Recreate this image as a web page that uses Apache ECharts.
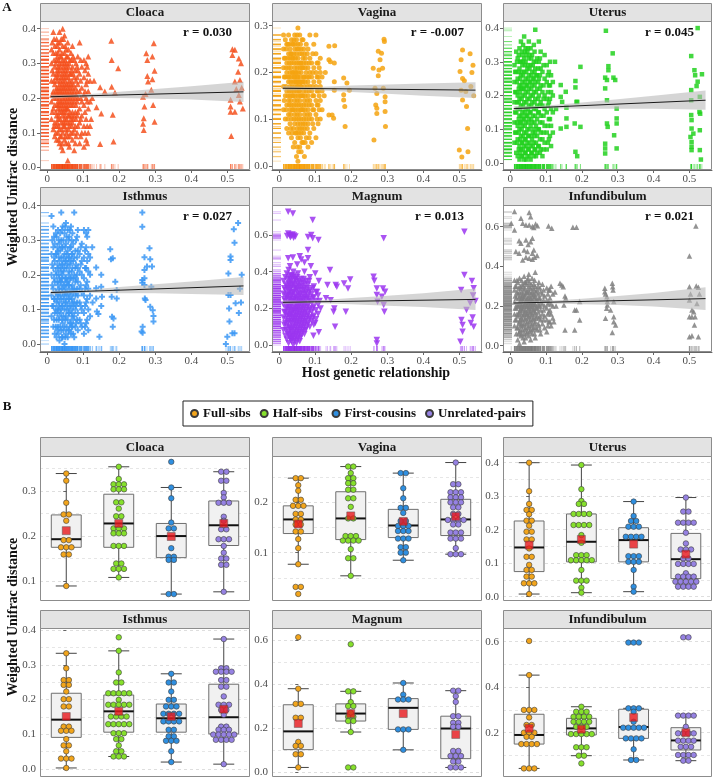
<!DOCTYPE html>
<html><head><meta charset="utf-8">
<script src="https://cdn.jsdelivr.net/npm/echarts/dist/echarts.min.js"></script>
<style>html,body{margin:0;padding:0;background:#fff}#c{width:713px;height:778px}</style>
</head><body><div id="c"></div>
<script>
// ---------------- DATA ----------------
const tissues = ['Cloaca','Vagina','Uterus','Isthmus','Magnum','Infundibulum'];
const rValues = ['0.030','-0.007','0.045','0.027','0.013','0.021'];
const groups = ['Full-sibs','Half-sibs','First-cousins','Unrelated-pairs'];
const xTicksA = [0,0.1,0.2,0.3,0.4,0.5];
const yTicksA = [[0,0.1,0.2,0.3,0.4],[0,0.1,0.2,0.3],[0,0.1,0.2,0.3,0.4],[0,0.1,0.2,0.3,0.4],[0,0.2,0.4,0.6],[0,0.2,0.4,0.6]];
const yTicksB = [[0.1,0.2,0.3],[0.1,0.2],[0,0.1,0.2,0.3,0.4],[0,0.1,0.2,0.3,0.4],[0,0.2,0.4,0.6],[0.2,0.4,0.6]];

// Panel A: dense cluster as [x, [y...]] columns, plus scattered points
const cloacaCluster = [[0.012,[0.14,0.19,0.25,0.30,0.34]],[0.017,[0.11,0.17,0.22,0.27,0.33,0.39]],[0.021,[0.09,0.13,0.18,0.21,0.24,0.29,0.35]],[0.026,[0.08,0.12,0.15,0.2,0.23,0.27,0.31,0.37]],[0.030,[0.1,0.14,0.17,0.19,0.22,0.26,0.29,0.33,0.36]],[0.034,[0.07,0.11,0.16,0.2,0.24,0.28,0.3,0.34,0.39]],[0.039,[0.06,0.09,0.13,0.18,0.21,0.23,0.26,0.32,0.37]],[0.043,[0.05,0.1,0.15,0.17,0.2,0.25,0.28,0.31,0.35,0.40]],[0.048,[0.08,0.12,0.14,0.19,0.22,0.24,0.27,0.3,0.33,0.38]],[0.052,[0.07,0.11,0.16,0.18,0.21,0.26,0.29,0.34]],[0.057,[0.02,0.09,0.13,0.17,0.2,0.23,0.28,0.32,0.36]],[0.061,[0.06,0.12,0.15,0.19,0.22,0.25,0.3]],[0.066,[0.1,0.14,0.18,0.21,0.24,0.27,0.33]],[0.070,[0.08,0.13,0.16,0.2,0.23,0.29,0.35]],[0.075,[0.05,0.11,0.15,0.19,0.22,0.26,0.31]],[0.080,[0.09,0.14,0.18,0.21,0.25,0.3]],[0.085,[0.12,0.16,0.2,0.24,0.28,0.32]],[0.090,[0.07,0.13,0.17,0.22,0.27,0.36]],[0.096,[0.1,0.15,0.19,0.23,0.29]],[0.102,[0.06,0.12,0.18,0.21,0.26,0.31]],[0.108,[0.08,0.14,0.2,0.24,0.3]],[0.114,[0.1,0.17,0.22,0.27,0.32]],[0.119,[0.12,0.19,0.25]]];
const cloacaCluster2 = [[0.014,[0.16,0.21,0.28,0.36]],[0.019,[0.12,0.2,0.25,0.31,0.37]],[0.024,[0.1,0.16,0.22,0.26,0.3,0.33]],[0.028,[0.13,0.18,0.21,0.25,0.28,0.32,0.35]],[0.032,[0.08,0.12,0.15,0.18,0.21,0.23,0.27,0.31]],[0.036,[0.09,0.14,0.17,0.19,0.22,0.25,0.29,0.32,0.36]],[0.041,[0.07,0.11,0.16,0.19,0.22,0.24,0.27,0.3,0.33]],[0.045,[0.12,0.13,0.16,0.18,0.21,0.23,0.26,0.29,0.37]],[0.050,[0.09,0.13,0.15,0.17,0.2,0.23,0.25,0.28,0.31,0.35]],[0.054,[0.1,0.14,0.17,0.19,0.22,0.24,0.27,0.3,0.32]],[0.059,[0.07,0.11,0.15,0.18,0.21,0.24,0.26,0.29,0.34]],[0.063,[0.09,0.13,0.16,0.2,0.23,0.27,0.31]],[0.068,[0.12,0.15,0.19,0.22,0.25,0.28,0.31]],[0.072,[0.1,0.14,0.18,0.21,0.24,0.27,0.32]],[0.078,[0.07,0.12,0.16,0.2,0.23,0.28]],[0.083,[0.1,0.15,0.19,0.22,0.26,0.29]],[0.093,[0.09,0.14,0.2,0.25,0.31]],[0.105,[0.1,0.16,0.22,0.28]],[0.111,[0.07,0.12,0.19,0.25,0.29]]];
const cloacaExtra = [[0.137,0.174],[0.147,0.231],[0.15,0.156],[0.147,0.068],[0.178,0.365],[0.179,0.31],[0.179,0.233],[0.182,0.152],[0.184,0.075],[0.188,0.216],[0.197,0.286],[0.16,0.219],[0.125,0.2],[0.13,0.25],[0.122,0.14],[0.268,0.108],[0.268,0.142],[0.27,0.176],[0.275,0.329],[0.278,0.31],[0.278,0.264],[0.28,0.248],[0.289,0.224],[0.292,0.254],[0.292,0.32],[0.296,0.358],[0.298,0.279],[0.294,0.18],[0.298,0.132],[0.266,0.204],[0.273,0.212],[0.266,0.126],[0.514,0.341],[0.514,0.324],[0.509,0.195],[0.509,0.176],[0.509,0.161],[0.511,0.091],[0.521,0.339],[0.521,0.248],[0.525,0.226],[0.53,0.276],[0.535,0.252],[0.532,0.209],[0.535,0.19],[0.532,0.314],[0.521,0.161],[0.54,0.23],[0.543,0.17],[0.538,0.3]];
const vaginaCluster = [[0.012,[0.12,0.17,0.21,0.25,0.28]],[0.017,[0.1,0.15,0.19,0.23,0.27]],[0.021,[0.08,0.13,0.16,0.2,0.22,0.26]],[0.026,[0.07,0.11,0.14,0.18,0.21,0.24,0.28]],[0.030,[0.09,0.12,0.15,0.17,0.2,0.23,0.25]],[0.034,[0.06,0.1,0.13,0.16,0.19,0.22,0.24,0.27]],[0.039,[0.04,0.08,0.12,0.15,0.18,0.2,0.23,0.26]],[0.043,[0.05,0.09,0.11,0.14,0.17,0.19,0.21,0.25,0.28]],[0.048,[0.02,0.07,0.1,0.13,0.16,0.18,0.2,0.22,0.24,0.27]],[0.052,[0.01,0.06,0.09,0.12,0.15,0.17,0.19,0.23,0.26,0.295]],[0.057,[0.04,0.08,0.11,0.14,0.16,0.18,0.21,0.24,0.28]],[0.061,[0.03,0.07,0.1,0.13,0.17,0.2,0.22,0.25]],[0.066,[0.05,0.09,0.12,0.15,0.18,0.21,0.23,0.27]],[0.070,[0.02,0.08,0.11,0.14,0.17,0.19,0.24]],[0.075,[0.06,0.1,0.13,0.16,0.2,0.22,0.26]],[0.080,[0.04,0.09,0.12,0.15,0.18,0.21,0.25]],[0.085,[0.07,0.11,0.14,0.17,0.2,0.23,0.28]],[0.090,[0.05,0.1,0.13,0.16,0.19,0.22]],[0.096,[0.08,0.12,0.15,0.18,0.21,0.26]],[0.102,[0.06,0.11,0.14,0.17,0.2,0.24,0.28]],[0.108,[0.09,0.13,0.16,0.19,0.22]],[0.114,[0.1,0.14,0.17,0.2,0.23]],[0.119,[0.12,0.16,0.19]]];
const vaginaCluster2 = [[0.014,[0.14,0.19,0.23]],[0.019,[0.12,0.17,0.21,0.25]],[0.024,[0.1,0.15,0.19,0.23,0.26]],[0.028,[0.13,0.16,0.19,0.22,0.26]],[0.032,[0.08,0.11,0.14,0.18,0.21,0.24]],[0.036,[0.07,0.12,0.15,0.17,0.2,0.23,0.26]],[0.041,[0.1,0.13,0.16,0.19,0.22,0.24,0.27]],[0.045,[0.07,0.12,0.15,0.18,0.2,0.23,0.26]],[0.050,[0.04,0.08,0.11,0.14,0.17,0.19,0.21,0.25,0.28]],[0.054,[0.03,0.07,0.1,0.13,0.16,0.18,0.2,0.22,0.25]],[0.059,[0.06,0.09,0.12,0.15,0.17,0.19,0.22,0.26]],[0.063,[0.05,0.08,0.12,0.15,0.18,0.21,0.24,0.27]],[0.068,[0.07,0.1,0.13,0.16,0.19,0.22,0.25]],[0.072,[0.05,0.09,0.12,0.15,0.18,0.21,0.23]],[0.078,[0.08,0.11,0.14,0.17,0.19,0.24]],[0.083,[0.06,0.1,0.13,0.16,0.19,0.22]],[0.093,[0.09,0.12,0.15,0.17,0.2,0.24]],[0.105,[0.1,0.13,0.16,0.19,0.22]],[0.111,[0.12,0.15,0.18,0.21]]];
const vaginaExtra = [[0.138,0.256],[0.138,0.227],[0.142,0.223],[0.138,0.109],[0.147,0.109],[0.151,0.102],[0.154,0.257],[0.153,0.22],[0.153,0.18],[0.153,0.162],[0.179,0.188],[0.179,0.152],[0.179,0.141],[0.182,0.127],[0.183,0.084],[0.188,0.177],[0.195,0.162],[0.125,0.15],[0.128,0.2],[0.261,0.209],[0.263,0.055],[0.266,0.166],[0.268,0.13],[0.271,0.123],[0.271,0.112],[0.275,0.245],[0.277,0.205],[0.275,0.193],[0.28,0.227],[0.284,0.241],[0.287,0.209],[0.291,0.271],[0.292,0.266],[0.289,0.166],[0.294,0.148],[0.294,0.137],[0.294,0.116],[0.295,0.084],[0.271,0.155],[0.5,0.034],[0.502,0.202],[0.505,0.227],[0.505,0.162],[0.509,0.248],[0.509,0.141],[0.507,0.019],[0.514,0.182],[0.518,0.159],[0.52,0.127],[0.523,0.08],[0.524,0.03],[0.509,0.187],[0.53,0.24],[0.535,0.2],[0.54,0.15],[0.538,0.215],[0.532,0.17]];
const uterusCluster = [[0.012,[0.06,0.12,0.18,0.24,0.29]],[0.017,[0.03,0.09,0.15,0.21,0.27,0.33]],[0.021,[0.02,0.07,0.11,0.16,0.2,0.25,0.31]],[0.026,[0.01,0.05,0.1,0.14,0.19,0.23,0.28,0.34]],[0.030,[0.04,0.08,0.12,0.17,0.22,0.26,0.3,0.36]],[0.034,[0.02,0.06,0.11,0.15,0.2,0.24,0.29,0.32]],[0.039,[0.01,0.05,0.09,0.13,0.18,0.22,0.27,0.31,0.375]],[0.043,[0.03,0.07,0.12,0.16,0.21,0.25,0.3,0.34]],[0.048,[0.02,0.06,0.1,0.14,0.19,0.23,0.28,0.33]],[0.052,[0.04,0.08,0.13,0.17,0.22,0.26,0.31,0.36]],[0.057,[0.01,0.05,0.11,0.15,0.2,0.24,0.29,0.34]],[0.061,[0.03,0.07,0.12,0.18,0.23,0.27,0.32]],[0.066,[0.02,0.06,0.1,0.16,0.21,0.25,0.3,0.35]],[0.070,[0.04,0.09,0.14,0.19,0.24,0.28,0.395]],[0.075,[0.03,0.08,0.13,0.17,0.22,0.26,0.31]],[0.080,[0.05,0.1,0.15,0.2,0.25,0.3,0.36]],[0.085,[0.04,0.09,0.14,0.18,0.23,0.28,0.33]],[0.090,[0.02,0.07,0.12,0.17,0.21,0.27]],[0.096,[0.06,0.11,0.16,0.2,0.25,0.32]],[0.102,[0.04,0.09,0.15,0.19,0.24,0.29]],[0.108,[0.07,0.13,0.18,0.23,0.27]],[0.114,[0.05,0.11,0.16,0.21,0.26]],[0.119,[0.09,0.15,0.2,0.24]]];
const uterusCluster2 = [[0.014,[0.09,0.15,0.21,0.27]],[0.019,[0.06,0.12,0.18,0.24,0.3]],[0.024,[0.04,0.09,0.13,0.18,0.22,0.27,0.32]],[0.028,[0.03,0.07,0.12,0.16,0.21,0.25,0.3]],[0.032,[0.02,0.06,0.1,0.14,0.19,0.23,0.27,0.33]],[0.036,[0.04,0.08,0.13,0.17,0.22,0.26,0.3,0.35]],[0.041,[0.03,0.07,0.11,0.15,0.2,0.24,0.29,0.33]],[0.045,[0.01,0.05,0.09,0.14,0.18,0.23,0.27,0.32]],[0.050,[0.04,0.08,0.12,0.16,0.21,0.25,0.29,0.34]],[0.054,[0.02,0.06,0.1,0.15,0.19,0.24,0.28,0.32]],[0.059,[0.03,0.08,0.13,0.17,0.22,0.26,0.31]],[0.063,[0.05,0.09,0.14,0.2,0.25,0.29]],[0.068,[0.04,0.08,0.12,0.18,0.23,0.27,0.33]],[0.072,[0.02,0.06,0.11,0.16,0.21,0.26,0.3]],[0.078,[0.05,0.1,0.15,0.19,0.24,0.28]],[0.083,[0.03,0.07,0.12,0.17,0.22,0.26,0.31]],[0.093,[0.04,0.09,0.14,0.19,0.23,0.29]],[0.105,[0.06,0.11,0.17,0.21,0.26]],[0.111,[0.08,0.13,0.19,0.23,0.3]]];
const uterusExtra = [[0.141,0.231],[0.141,0.196],[0.141,0.102],[0.145,0.181],[0.155,0.211],[0.157,0.164],[0.157,0.132],[0.157,0.107],[0.182,0.243],[0.182,0.224],[0.185,0.181],[0.18,0.117],[0.182,0.033],[0.187,0.02],[0.196,0.285],[0.196,0.107],[0.187,0.181],[0.125,0.3],[0.128,0.16],[0.267,0.392],[0.265,0.253],[0.265,0.221],[0.265,0.057],[0.265,0.043],[0.265,0.028],[0.27,0.246],[0.27,0.117],[0.272,0.107],[0.274,0.287],[0.274,0.275],[0.27,0.186],[0.286,0.325],[0.288,0.253],[0.293,0.246],[0.29,0.082],[0.297,0.161],[0.297,0.132],[0.297,0.117],[0.297,0.043],[0.505,0.317],[0.505,0.216],[0.505,0.186],[0.505,0.142],[0.506,0.127],[0.506,0.102],[0.503,0.077],[0.506,0.062],[0.506,0.048],[0.506,0.038],[0.514,0.275],[0.516,0.26],[0.52,0.228],[0.523,0.4],[0.523,0.241],[0.528,0.151],[0.529,0.097],[0.529,0.038],[0.532,0.01],[0.535,0.263],[0.529,0.196],[0.511,0.087],[0.53,0.146]];
const isthmusCluster = [[0.012,[0.08,0.14,0.2,0.26,0.37]],[0.017,[0.05,0.11,0.16,0.22,0.28,0.34]],[0.021,[0.03,0.09,0.13,0.18,0.24,0.29]],[0.026,[0.02,0.07,0.12,0.15,0.2,0.26,0.31]],[0.030,[0.05,0.1,0.14,0.17,0.22,0.27,0.33]],[0.034,[0.01,0.08,0.12,0.16,0.19,0.24,0.29]],[0.039,[0.04,0.09,0.13,0.18,0.21,0.25,0.3,0.38]],[0.043,[0.02,0.06,0.11,0.15,0.2,0.23,0.28,0.34]],[0.048,[0.0,0.05,0.1,0.14,0.17,0.22,0.26,0.32]],[0.052,[0.03,0.08,0.12,0.16,0.19,0.24,0.29,0.35]],[0.057,[0.02,0.07,0.11,0.15,0.18,0.23,0.27,0.33]],[0.061,[0.04,0.09,0.13,0.17,0.21,0.25,0.31]],[0.066,[0.03,0.06,0.1,0.14,0.19,0.24,0.28,0.34]],[0.070,[0.05,0.09,0.13,0.17,0.22,0.26,0.32]],[0.075,[0.02,0.08,0.12,0.16,0.2,0.25,0.38]],[0.080,[0.06,0.11,0.15,0.19,0.23,0.3]],[0.085,[0.04,0.09,0.14,0.18,0.22,0.27,0.33]],[0.090,[0.07,0.12,0.16,0.21,0.26]],[0.096,[0.05,0.1,0.15,0.2,0.24,0.29]],[0.102,[0.03,0.09,0.14,0.19,0.25,0.33]],[0.108,[0.06,0.12,0.17,0.22,0.28,0.32]],[0.114,[0.04,0.1,0.16,0.21,0.26,0.33]],[0.119,[0.08,0.14,0.2,0.25]]];
const isthmusCluster2 = [[0.014,[0.11,0.17,0.23,0.3]],[0.019,[0.07,0.13,0.19,0.25,0.31]],[0.024,[0.05,0.1,0.15,0.21,0.26,0.32]],[0.028,[0.04,0.09,0.13,0.18,0.23,0.28]],[0.032,[0.03,0.07,0.11,0.15,0.2,0.25,0.3]],[0.036,[0.05,0.1,0.14,0.18,0.22,0.27,0.32]],[0.041,[0.02,0.07,0.11,0.16,0.19,0.23,0.28,0.33]],[0.045,[0.04,0.08,0.13,0.17,0.21,0.25,0.3]],[0.050,[0.02,0.07,0.12,0.15,0.19,0.24,0.28,0.34]],[0.054,[0.05,0.1,0.14,0.18,0.22,0.26,0.31]],[0.059,[0.04,0.09,0.13,0.17,0.2,0.25,0.3]],[0.063,[0.06,0.11,0.15,0.19,0.23,0.28,0.33]],[0.068,[0.05,0.08,0.12,0.16,0.21,0.26,0.3]],[0.072,[0.03,0.07,0.11,0.15,0.19,0.24,0.29]],[0.078,[0.05,0.1,0.14,0.18,0.22,0.27]],[0.083,[0.07,0.12,0.16,0.2,0.25,0.31]],[0.093,[0.06,0.11,0.17,0.23,0.28]],[0.105,[0.05,0.11,0.16,0.22,0.27]],[0.111,[0.07,0.13,0.18,0.24,0.31]]];
const isthmusExtra = [[0.136,0.221],[0.136,0.161],[0.136,0.132],[0.138,0.094],[0.142,0.087],[0.145,0.021],[0.15,0.2],[0.15,0.166],[0.152,0.137],[0.15,0.11],[0.175,0.274],[0.177,0.245],[0.182,0.248],[0.179,0.137],[0.18,0.079],[0.182,0.05],[0.189,0.18],[0.193,0.156],[0.193,0.132],[0.184,0.074],[0.125,0.28],[0.126,0.12],[0.264,0.38],[0.264,0.339],[0.264,0.185],[0.264,0.177],[0.262,0.036],[0.265,0.05],[0.265,0.033],[0.27,0.251],[0.27,0.214],[0.27,0.19],[0.27,0.171],[0.271,0.132],[0.273,0.127],[0.277,0.224],[0.284,0.277],[0.286,0.245],[0.286,0.108],[0.291,0.224],[0.289,0.166],[0.293,0.098],[0.295,0.081],[0.295,0.065],[0.496,0.0],[0.5,0.021],[0.503,0.204],[0.503,0.142],[0.505,0.103],[0.506,0.065],[0.509,0.253],[0.509,0.243],[0.509,0.142],[0.514,0.031],[0.518,0.332],[0.52,0.293],[0.52,0.031],[0.523,0.118],[0.53,0.35],[0.535,0.16],[0.54,0.2],[0.538,0.12],[0.532,0.09]];
const magnumCluster = [[0.012,[0.08,0.15,0.22,0.28,0.35]],[0.017,[0.05,0.12,0.18,0.24,0.3,0.37]],[0.021,[0.03,0.1,0.16,0.21,0.26,0.32,0.39]],[0.026,[0.01,0.07,0.13,0.19,0.23,0.28,0.34,0.41]],[0.030,[0.04,0.09,0.15,0.2,0.25,0.3,0.36]],[0.034,[0.02,0.06,0.12,0.17,0.22,0.27,0.32,0.38]],[0.039,[0.0,0.05,0.1,0.14,0.19,0.24,0.29,0.34,0.4]],[0.043,[0.03,0.08,0.13,0.18,0.21,0.26,0.31,0.36]],[0.048,[0.01,0.06,0.11,0.16,0.2,0.25,0.3,0.35]],[0.052,[0.04,0.09,0.14,0.19,0.23,0.28,0.33,0.39]],[0.057,[0.02,0.07,0.12,0.17,0.22,0.27,0.32]],[0.061,[0.05,0.1,0.15,0.2,0.24,0.3,0.36]],[0.066,[0.08,0.13,0.18,0.23,0.28,0.34]],[0.070,[0.06,0.11,0.16,0.21,0.26,0.31,0.4]],[0.075,[0.09,0.14,0.19,0.25,0.29,0.35]],[0.080,[0.12,0.17,0.22,0.27,0.33]],[0.085,[0.1,0.15,0.2,0.24,0.3,0.37]],[0.090,[0.13,0.18,0.23,0.28]],[0.096,[0.11,0.16,0.21,0.26,0.32]],[0.102,[0.14,0.19,0.24,0.29]],[0.108,[0.17,0.22,0.27]]];
const magnumCluster2 = [[0.014,[0.11,0.18,0.25,0.31]],[0.019,[0.08,0.14,0.2,0.27,0.33]],[0.024,[0.06,0.12,0.17,0.22,0.27,0.31,0.36]],[0.028,[0.05,0.1,0.16,0.21,0.25,0.29,0.33,0.38]],[0.032,[0.03,0.08,0.13,0.18,0.23,0.27,0.31,0.35]],[0.036,[0.04,0.09,0.15,0.19,0.24,0.28,0.33,0.37]],[0.041,[0.02,0.07,0.12,0.16,0.2,0.25,0.29,0.33,0.38]],[0.045,[0.05,0.1,0.15,0.19,0.23,0.27,0.32,0.36]],[0.050,[0.03,0.08,0.13,0.18,0.22,0.26,0.31,0.37]],[0.054,[0.06,0.11,0.16,0.21,0.25,0.3,0.35]],[0.059,[0.04,0.09,0.14,0.19,0.24,0.28,0.34]],[0.063,[0.07,0.12,0.17,0.22,0.26,0.32]],[0.068,[0.1,0.15,0.2,0.25,0.3,0.36]],[0.072,[0.08,0.13,0.18,0.23,0.28,0.33]],[0.078,[0.11,0.16,0.21,0.26,0.31]],[0.083,[0.14,0.19,0.25,0.29,0.35]],[0.093,[0.15,0.2,0.26,0.31]]];
const magnumExtra = [[0.025,0.727],[0.038,0.718],[0.093,0.682],[0.025,0.609],[0.029,0.6],[0.033,0.595],[0.037,0.603],[0.041,0.598],[0.045,0.592],[0.031,0.588],[0.04,0.585],[0.022,0.595],[0.089,0.6],[0.093,0.582],[0.109,0.573],[0.08,0.59],[0.08,0.518],[0.025,0.473],[0.038,0.478],[0.057,0.485],[0.061,0.467],[0.08,0.473],[0.07,0.45],[0.05,0.44],[0.088,0.43],[0.03,0.43],[0.1,0.39],[0.11,0.35],[0.105,0.29],[0.112,0.24],[0.115,0.2],[0.1,0.12],[0.11,0.07],[0.095,0.05],[0.141,0.409],[0.134,0.327],[0.157,0.327],[0.16,0.318],[0.153,0.2],[0.151,0.182],[0.155,0.1],[0.18,0.336],[0.185,0.182],[0.197,0.358],[0.191,0.309],[0.143,0.245],[0.13,0.255],[0.262,0.373],[0.264,0.351],[0.271,0.309],[0.271,0.273],[0.273,0.236],[0.271,0.027],[0.271,0.009],[0.285,0.264],[0.288,0.309],[0.29,0.218],[0.292,0.182],[0.29,0.582],[0.294,0.291],[0.514,0.618],[0.514,0.382],[0.505,0.3],[0.506,0.136],[0.509,0.109],[0.509,0.073],[0.503,0.018],[0.52,0.191],[0.535,0.35],[0.54,0.31],[0.538,0.27],[0.53,0.23],[0.545,0.24],[0.537,0.15],[0.532,0.12],[0.54,0.1]];
const infundCluster = [[0.012,[0.1,0.16,0.22,0.28,0.33]],[0.017,[0.06,0.13,0.19,0.24,0.3]],[0.021,[0.03,0.09,0.15,0.2,0.26,0.32]],[0.026,[0.01,0.07,0.12,0.17,0.22,0.27,0.34]],[0.030,[0.05,0.1,0.14,0.19,0.23,0.29]],[0.034,[0.08,0.13,0.18,0.21,0.25,0.31]],[0.039,[0.02,0.06,0.11,0.16,0.2,0.24,0.28,0.35]],[0.043,[0.04,0.09,0.14,0.18,0.22,0.26,0.32]],[0.048,[0.07,0.12,0.16,0.2,0.23,0.27,0.33]],[0.052,[0.05,0.1,0.15,0.19,0.22,0.25,0.3,0.36]],[0.057,[0.03,0.08,0.13,0.17,0.21,0.24,0.29]],[0.061,[0.06,0.11,0.16,0.2,0.23,0.27,0.34]],[0.066,[0.09,0.14,0.18,0.22,0.26,0.31]],[0.070,[0.04,0.12,0.17,0.21,0.25,0.3,0.37]],[0.075,[0.08,0.15,0.19,0.23,0.28]],[0.080,[0.1,0.14,0.2,0.24,0.32]],[0.085,[0.06,0.13,0.18,0.22,0.27]],[0.090,[0.11,0.16,0.21,0.26,0.31]],[0.096,[0.09,0.15,0.2,0.25]],[0.102,[0.07,0.13,0.19,0.23,0.29]],[0.108,[0.12,0.17,0.22,0.28]],[0.114,[0.1,0.16,0.21,0.3]],[0.119,[0.14,0.2,0.26]]];
const infundCluster2 = [[0.014,[0.13,0.19,0.25,0.3]],[0.019,[0.09,0.16,0.21,0.27,0.33]],[0.024,[0.06,0.11,0.16,0.2,0.24,0.29]],[0.028,[0.08,0.13,0.18,0.21,0.25,0.3]],[0.032,[0.06,0.11,0.16,0.2,0.24,0.27,0.33]],[0.036,[0.04,0.1,0.15,0.19,0.23,0.26,0.3]],[0.041,[0.08,0.13,0.17,0.21,0.25,0.29,0.32]],[0.045,[0.06,0.11,0.16,0.2,0.23,0.27,0.31]],[0.050,[0.09,0.14,0.18,0.21,0.24,0.28,0.34]],[0.054,[0.07,0.12,0.17,0.2,0.23,0.27,0.32]],[0.059,[0.1,0.15,0.19,0.22,0.26,0.31]],[0.063,[0.08,0.13,0.18,0.21,0.25,0.29]],[0.068,[0.06,0.11,0.16,0.2,0.24,0.28,0.33]],[0.072,[0.09,0.14,0.19,0.23,0.27]],[0.078,[0.11,0.17,0.21,0.26,0.3]],[0.083,[0.08,0.15,0.2,0.24,0.29]],[0.093,[0.13,0.18,0.23,0.28]],[0.105,[0.1,0.16,0.21,0.26]],[0.111,[0.12,0.18,0.24,0.28]]];
const infundExtra = [[0.012,0.676],[0.053,0.671],[0.057,0.65],[0.03,0.642],[0.003,0.617],[0.035,0.617],[0.044,0.608],[0.053,0.608],[0.062,0.6],[0.071,0.613],[0.076,0.605],[0.066,0.595],[0.012,0.583],[0.107,0.603],[0.116,0.592],[0.175,0.597],[0.185,0.597],[0.025,0.529],[0.044,0.533],[0.057,0.524],[0.062,0.541],[0.03,0.516],[0.05,0.51],[0.016,0.474],[0.025,0.466],[0.039,0.482],[0.048,0.474],[0.062,0.466],[0.066,0.482],[0.044,0.445],[0.053,0.44],[0.062,0.435],[0.068,0.445],[0.035,0.432],[0.075,0.455],[0.139,0.314],[0.144,0.306],[0.148,0.297],[0.153,0.25],[0.155,0.239],[0.15,0.205],[0.153,0.079],[0.18,0.079],[0.18,0.18],[0.185,0.18],[0.194,0.129],[0.194,0.222],[0.125,0.27],[0.128,0.2],[0.122,0.12],[0.264,0.289],[0.264,0.272],[0.266,0.26],[0.27,0.247],[0.271,0.222],[0.266,0.138],[0.269,0.188],[0.271,0.205],[0.285,0.314],[0.286,0.297],[0.287,0.281],[0.289,0.146],[0.289,0.121],[0.285,0.066],[0.294,0.104],[0.28,0.18],[0.289,0.222],[0.5,0.452],[0.518,0.603],[0.5,0.297],[0.503,0.26],[0.5,0.23],[0.507,0.18],[0.5,0.146],[0.507,0.146],[0.516,0.146],[0.512,0.171],[0.519,0.301],[0.525,0.294],[0.514,0.104],[0.5,0.045],[0.507,0.05],[0.525,0.045],[0.528,0.26],[0.521,0.213]];

// regression lines and confidence bands
const bandX = [0.01,0.06,0.12,0.2,0.3,0.4,0.545];
const cloacaLine = [[0.01,0.204],[0.545,0.218]];
const cloacaLo = [0.198,0.202,0.202,0.200,0.198,0.196,0.189];
const cloacaHi = [0.210,0.210,0.212,0.218,0.226,0.234,0.247];
const vaginaLine = [[0.01,0.166],[0.545,0.162]];
const vaginaLo = [0.161,0.162,0.161,0.158,0.154,0.150,0.145];
const vaginaHi = [0.171,0.169,0.169,0.172,0.174,0.176,0.179];
const uterusLine = [[0.01,0.161],[0.545,0.186]];
const uterusLo = [0.155,0.160,0.162,0.161,0.161,0.161,0.158];
const uterusHi = [0.168,0.168,0.172,0.179,0.189,0.199,0.215];
const isthmusLine = [[0.01,0.149],[0.545,0.168]];
const isthmusLo = [0.143,0.147,0.148,0.147,0.147,0.145,0.142];
const isthmusHi = [0.155,0.155,0.158,0.165,0.173,0.181,0.194];
const magnumLine = [[0.01,0.233],[0.545,0.249]];
const magnumLo = [0.222,0.228,0.228,0.222,0.215,0.208,0.191];
const magnumHi = [0.244,0.242,0.246,0.256,0.269,0.282,0.308];
const infundLine = [[0.01,0.215],[0.545,0.237]];
const infundLo = [0.206,0.212,0.213,0.209,0.205,0.197,0.180];
const infundHi = [0.224,0.224,0.227,0.237,0.250,0.266,0.295];

// Panel B: dot values per group, box stats [min,Q1,median,Q3,max], means
const cloacaB_FS = [0.339,0.323,0.274,0.248,0.248,0.234,0.191,0.191,0.175,0.175,0.175,0.159,0.159,0.089];
const cloacaB_HS = [0.354,0.327,0.315,0.315,0.315,0.304,0.304,0.304,0.275,0.275,0.261,0.244,0.244,0.217,0.217,0.217,0.206,0.206,0.206,0.178,0.178,0.178,0.139,0.139,0.127,0.127,0.127,0.108];
const cloacaB_FC = [0.365,0.308,0.284,0.230,0.217,0.217,0.173,0.154,0.154,0.147,0.147,0.071,0.071];
const cloacaB_UR = [0.343,0.343,0.323,0.323,0.296,0.286,0.274,0.274,0.274,0.243,0.234,0.215,0.215,0.193,0.193,0.193,0.178,0.163,0.150,0.150,0.136,0.136,0.076];
const cloacaB_stats = [[0.089,0.175,0.193,0.247,0.339],[0.108,0.175,0.228,0.293,0.354],[0.071,0.152,0.2,0.228,0.308],[0.076,0.179,0.224,0.278,0.343]];
const cloacaB_means = [0.212,0.228,0.199,0.228];
const vaginaB_FS = [0.248,0.248,0.234,0.223,0.205,0.205,0.193,0.193,0.193,0.177,0.177,0.166,0.166,0.156,0.156,0.142,0.142,0.127,0.109,0.077,0.032,0.032,0.018];
const vaginaB_HS = [0.271,0.271,0.258,0.248,0.248,0.238,0.238,0.225,0.225,0.208,0.208,0.191,0.168,0.168,0.133,0.133,0.133,0.124,0.124,0.124,0.124,0.107,0.089,0.089,0.054];
const vaginaB_FC = [0.258,0.258,0.228,0.208,0.189,0.189,0.179,0.163,0.163,0.153,0.153,0.153,0.143,0.143,0.143,0.128,0.128,0.128,0.111,0.111,0.1,0.1,0.085];
const vaginaB_UR = [0.279,0.236,0.236,0.22,0.22,0.22,0.21,0.21,0.21,0.2,0.2,0.2,0.19,0.19,0.177,0.177,0.165,0.165,0.165,0.165,0.156,0.156,0.14,0.14,0.14,0.128,0.128,0.128,0.109,0.097,0.097,0.097];
const vaginaB_stats = [[0.077,0.138,0.166,0.193,0.248],[0.054,0.126,0.168,0.221,0.271],[0.085,0.13,0.154,0.186,0.258],[0.097,0.134,0.166,0.206,0.279]];
const vaginaB_means = [0.157,0.173,0.162,0.172];
const uterusB_FS = [0.4,0.315,0.277,0.259,0.259,0.246,0.227,0.227,0.212,0.194,0.194,0.171,0.171,0.144,0.119,0.119,0.095,0.08,0.08,0.06,0.06,0.04,0.04,0.04,0.008];
const uterusB_HS = [0.393,0.321,0.286,0.277,0.277,0.247,0.247,0.247,0.247,0.214,0.214,0.214,0.214,0.184,0.161,0.124,0.124,0.124,0.109,0.109,0.109,0.109,0.109,0.08,0.048,0.048,0.048,0.027,0.012];
const uterusB_FC = [0.284,0.241,0.226,0.226,0.209,0.209,0.209,0.179,0.179,0.179,0.179,0.121,0.121,0.121,0.104,0.104,0.104,0.08,0.03,0.015];
const uterusB_UR = [0.296,0.254,0.254,0.221,0.221,0.221,0.221,0.191,0.159,0.141,0.141,0.141,0.114,0.114,0.098,0.098,0.098,0.098,0.07,0.06,0.06,0.06,0.06,0.045,0.045,0.045,0.045,0.045,0.03,0.03,0.03,0.03];
const uterusB_stats = [[0.008,0.075,0.147,0.226,0.4],[0.012,0.104,0.164,0.247,0.393],[0.015,0.104,0.169,0.206,0.284],[0.03,0.054,0.112,0.189,0.296]];
const uterusB_means = [0.154,0.171,0.157,0.127];
const isthmusB_FS = [0.333,0.29,0.256,0.256,0.242,0.242,0.223,0.201,0.201,0.18,0.18,0.122,0.122,0.11,0.11,0.11,0.086,0.068,0.068,0.051,0.03,0.03,0.03,0.003];
const isthmusB_HS = [0.379,0.34,0.278,0.249,0.249,0.218,0.218,0.218,0.218,0.218,0.199,0.185,0.185,0.185,0.185,0.185,0.151,0.151,0.151,0.151,0.129,0.129,0.129,0.129,0.129,0.103,0.103,0.103,0.086,0.086,0.068,0.051,0.051,0.036,0.036,0.036];
const isthmusB_FC = [0.274,0.249,0.249,0.223,0.199,0.199,0.18,0.18,0.18,0.159,0.159,0.159,0.159,0.137,0.137,0.137,0.137,0.113,0.113,0.094,0.094,0.081,0.081,0.081,0.051,0.02];
const isthmusB_UR = [0.374,0.29,0.29,0.28,0.28,0.28,0.28,0.256,0.256,0.237,0.237,0.209,0.185,0.185,0.185,0.17,0.17,0.156,0.122,0.122,0.113,0.113,0.113,0.099,0.099,0.099,0.099,0.099,0.084,0.084,0.084,0.084,0.014];
const isthmusB_stats = [[0.003,0.091,0.142,0.218,0.333],[0.036,0.106,0.166,0.213,0.34],[0.02,0.106,0.146,0.187,0.274],[0.014,0.101,0.149,0.244,0.374]];
const isthmusB_means = [0.151,0.166,0.151,0.172];
const magnumB_FS = [0.615,0.381,0.312,0.312,0.249,0.249,0.139,0.121,0.121,0.083,0.083,0.023];
const magnumB_HS = [0.583,0.369,0.369,0.32,0.302,0.302,0.271,0.253,0.253,0.234,0.234,0.184,0.023,0.023];
const magnumB_FC = [0.407,0.354,0.332,0.332,0.332,0.196,0.196,0.196,0.103];
const magnumB_UR = [0.372,0.372,0.347,0.321,0.256,0.256,0.226,0.226,0.208,0.208,0.098,0.098,0.075,0.075,0.075,0.05,0.05,0.023,0.023,0.023];
const magnumB_stats = [[0.023,0.104,0.187,0.308,0.381],[0.184,0.234,0.268,0.312,0.369],[0.103,0.196,0.294,0.336,0.407],[0.023,0.063,0.2,0.256,0.372]];
const magnumB_means = [0.223,0.268,0.268,0.173];
const infundB_FS = [0.603,0.453,0.3,0.3,0.3,0.267,0.234,0.234,0.2,0.2,0.2,0.182,0.182,0.15,0.15,0.15,0.15,0.043,0.043,0.043];
const infundB_HS = [0.314,0.292,0.292,0.292,0.27,0.27,0.27,0.27,0.248,0.248,0.248,0.248,0.226,0.226,0.226,0.194,0.194,0.194,0.194,0.194,0.136,0.136,0.136,0.099,0.099,0.065];
const infundB_FC = [0.596,0.596,0.596,0.307,0.307,0.307,0.292,0.248,0.222,0.222,0.222,0.222,0.222,0.175,0.175,0.175,0.175,0.127,0.08,0.08];
const infundB_UR = [0.619,0.619,0.275,0.275,0.275,0.275,0.226,0.197,0.197,0.197,0.197,0.165,0.165,0.165,0.165,0.138,0.138,0.138,0.102,0.102,0.102,0.102,0.077,0.077];
const infundB_stats = [[0.043,0.15,0.19,0.281,0.453],[0.099,0.19,0.219,0.263,0.314],[0.08,0.175,0.225,0.303,0.307],[0.077,0.124,0.166,0.222,0.275]];
const infundB_means = [0.219,0.215,0.267,0.2];

// ---------------- LAYOUT / STYLE ----------------
const FONT = '"Liberation Serif", "Times New Roman", serif';
const COLS = [[40,210],[272,210],[503,209]];
const A_ROWS = [{strip:3, top:21, h:149},{strip:187, top:205, h:147}];
const B_ROWS = [{strip:437, top:456, h:145},{strip:610, top:628, h:149}];
const X_RANGE_A = [-0.02, 0.563];
const Y_RANGE_A = [[-0.007,0.422,5],[-0.009,0.31,3],[-0.021,0.421,4],[-0.023,0.402,4],[-0.038,0.764,4],[-0.032,0.709,4]];
const Y_RANGE_B = [[0.0556,0.378,3],[0.004,0.292,3],[-0.0128,0.42,4],[-0.023,0.4058,4],[-0.0167,0.657,3],[0.0053,0.66,3]];
const PLUS = 'path://M2,0 L4,0 L4,2 L6,2 L6,4 L4,4 L4,6 L2,6 L2,4 L0,4 L0,2 L2,2 Z';
const A_STYLE = [
  {color:'#f4511e', symbol:'triangle', rot:0, size:6},
  {color:'#f5a30f', symbol:'circle', rot:0, size:5},
  {color:'#22d11f', symbol:'rect', rot:0, size:4.5},
  {color:'#3a97f5', symbol:PLUS, rot:0, size:6},
  {color:'#9b35f0', symbol:'triangle', rot:180, size:6.5},
  {color:'#808080', symbol:'triangle', rot:0, size:5.5}
];
const B_COLORS = ['#f2a51c','#86e02c','#2f8fe0','#9682e3'];

const clusters = [cloacaCluster.concat(cloacaCluster2),vaginaCluster.concat(vaginaCluster2),uterusCluster.concat(uterusCluster2),isthmusCluster.concat(isthmusCluster2),magnumCluster.concat(magnumCluster2),infundCluster.concat(infundCluster2)];
const extras = [cloacaExtra,vaginaExtra,uterusExtra,isthmusExtra,magnumExtra,infundExtra];
const lines = [cloacaLine,vaginaLine,uterusLine,isthmusLine,magnumLine,infundLine];
const los = [cloacaLo,vaginaLo,uterusLo,isthmusLo,magnumLo,infundLo];
const his = [cloacaHi,vaginaHi,uterusHi,isthmusHi,magnumHi,infundHi];
const bDots = [[cloacaB_FS,cloacaB_HS,cloacaB_FC,cloacaB_UR],[vaginaB_FS,vaginaB_HS,vaginaB_FC,vaginaB_UR],[uterusB_FS,uterusB_HS,uterusB_FC,uterusB_UR],[isthmusB_FS,isthmusB_HS,isthmusB_FC,isthmusB_UR],[magnumB_FS,magnumB_HS,magnumB_FC,magnumB_UR],[infundB_FS,infundB_HS,infundB_FC,infundB_UR]];
const bStats = [cloacaB_stats,vaginaB_stats,uterusB_stats,isthmusB_stats,magnumB_stats,infundB_stats];
const bMeans = [cloacaB_means,vaginaB_means,uterusB_means,isthmusB_means,magnumB_means,infundB_means];

const grids=[], xAxes=[], yAxes=[], series=[], graphics=[];
const tickColor = '#4d4d4d';
function fmt1(v){ return Number(v).toFixed(1); }

function strip(left, top, w, h, name){
  graphics.push({type:'rect', shape:{x:left+0.5, y:top+0.5, width:w-1, height:h}, style:{fill:'#e3e3e3', stroke:'#8c8c8c', lineWidth:1}, z:50});
  graphics.push({type:'text', x:left+w/2, y:top+h/2+1, style:{text:name, font:'bold 13px '+FONT, fill:'#1a1a1a', align:'center', verticalAlign:'middle', textAlign:'center', textVerticalAlign:'middle'}, z:51});
}
function border(left, top, w, h){
  graphics.push({type:'rect', shape:{x:left+0.5, y:top+0.5, width:w-1, height:h-1}, style:{fill:'none', stroke:'#8c8c8c', lineWidth:1}, z:60, silent:true});
}

// ---- Panel A ----
for (let i=0;i<6;i++){
  const col = COLS[i%3], row = A_ROWS[Math.floor(i/3)];
  const gi = grids.length;
  grids.push({left:col[0], top:row.top, width:col[1], height:row.h, show:false});
  const yr = Y_RANGE_A[i];
  xAxes.push({gridIndex:gi, type:'value', min:X_RANGE_A[0], max:X_RANGE_A[1], splitNumber:5,
    axisLine:{show:true, onZero:false, lineStyle:{color:'#666', width:1}},
    axisTick:{show:true, length:3, customValues:xTicksA, lineStyle:{color:'#666'}},
    axisLabel:{customValues:xTicksA, color:tickColor, fontFamily:FONT, fontSize:11, margin:4, formatter:v=> (Math.abs(v)<1e-9?'0':fmt1(v))},
    splitLine:{show:false}});
  yAxes.push({gridIndex:gi, type:'value', min:yr[0], max:yr[1], splitNumber:yr[2],
    axisLine:{show:true, onZero:false, lineStyle:{color:'#666', width:1}},
    axisTick:{show:true, length:3, customValues:yTicksA[i], lineStyle:{color:'#666'}},
    axisLabel:{customValues:yTicksA[i], color:tickColor, fontFamily:FONT, fontSize:11, margin:4, formatter:fmt1},
    splitLine:{show:false}});
  const st = A_STYLE[i];
  const pts = [];
  clusters[i].forEach(c => c[1].forEach(y => pts.push([c[0], y])));
  extras[i].forEach(p => pts.push(p));
  series.push({type:'scatter', xAxisIndex:gi, yAxisIndex:gi, silent:true, clip:false, z:1,
    data: pts.map(p => [X_RANGE_A[0], p[1]]), symbol:'rect', symbolSize:[9,1], symbolOffset:[4.5,0],
    itemStyle:{color:st.color, opacity:0.3}});
  series.push({type:'scatter', xAxisIndex:gi, yAxisIndex:gi, silent:true, clip:false, z:1,
    data: pts.map(p => [p[0], yr[0]]), symbol:'rect', symbolSize:[1,6], symbolOffset:[0,-3],
    itemStyle:{color:st.color, opacity:0.35}});
  series.push({type:'scatter', xAxisIndex:gi, yAxisIndex:gi, silent:true, z:2,
    data: pts, symbol:st.symbol, symbolRotate:st.rot, symbolSize:st.size,
    itemStyle:{color:st.color, opacity:0.85}});
  const lo = los[i], hi = his[i];
  series.push({type:'custom', xAxisIndex:gi, yAxisIndex:gi, silent:true, z:3, data:[[0.2, lo[3]]],
    renderItem:function(params, api){
      const up = bandX.map((x,k) => api.coord([x, hi[k]]));
      const dn = bandX.map((x,k) => api.coord([x, lo[k]])).reverse();
      return {type:'polygon', shape:{points: up.concat(dn)}, style:{fill:'rgba(185,185,185,0.6)'}};
    }});
  series.push({type:'line', xAxisIndex:gi, yAxisIndex:gi, silent:true, z:4, data:lines[i], symbol:'none',
    lineStyle:{color:'#1a1a1a', width:1}});
  strip(col[0], row.strip, col[1], row.top-row.strip, tissues[i]);
  border(col[0], row.top, col[1], row.h);
  graphics.push({type:'text', x:col[0]+col[1]-18, y:row.top+12, style:{text:'r = '+rValues[i], font:'bold 13px '+FONT, fill:'#111', align:'right', verticalAlign:'middle', textAlign:'right', textVerticalAlign:'middle'}, z:55});
}

// ---- Panel B ----
const DOT_STEP = 0.1;
function dotData(vals, g){
  const counts = {};
  vals.forEach(v => { counts[v] = (counts[v]||0) + 1; });
  const seen = {};
  return vals.map(v => {
    const k = seen[v] || 0; seen[v] = k + 1;
    return [g + (k - (counts[v]-1)/2) * DOT_STEP, v];
  });
}
for (let i=0;i<6;i++){
  const col = COLS[i%3], row = B_ROWS[Math.floor(i/3)];
  const gi = grids.length;
  grids.push({left:col[0], top:row.top, width:col[1], height:row.h, show:false});
  const yr = Y_RANGE_B[i];
  xAxes.push({gridIndex:gi, type:'value', min:-0.5, max:3.5, show:false, splitLine:{show:false}});
  yAxes.push({gridIndex:gi, type:'value', min:yr[0], max:yr[1], splitNumber:yr[2],
    axisLine:{show:false},
    axisTick:{show:true, length:3, customValues:yTicksB[i], lineStyle:{color:'#666'}},
    axisLabel:{customValues:yTicksB[i], color:tickColor, fontFamily:FONT, fontSize:11, margin:4, formatter:fmt1},
    splitLine:{show:true, lineStyle:{color:'#d6d6d6', width:0.8, type:[3,3]}},
    minorTick:{show:false, splitNumber:2},
    minorSplitLine:{show:true, lineStyle:{color:'#e0e0e0', width:0.8, type:[3,3]}}});
  const stats = bStats[i];
  series.push({type:'custom', xAxisIndex:gi, yAxisIndex:gi, silent:true, z:2,
    data: stats.map((s,g) => [g, s[0], s[1], s[2], s[3], s[4]]),
    renderItem:function(params, api){
      const g = api.value(0);
      const pMin = api.coord([g, api.value(1)]), pQ1 = api.coord([g, api.value(2)]), pMed = api.coord([g, api.value(3)]),
            pQ3 = api.coord([g, api.value(4)]), pMax = api.coord([g, api.value(5)]);
      const hw = api.size([0.285, 0])[0], cw = api.size([0.2, 0])[0];
      const x = pMin[0];
      const ls = {stroke:'#444', lineWidth:1};
      return {type:'group', children:[
        {type:'line', shape:{x1:x, y1:pMax[1], x2:x, y2:pQ3[1]}, style:ls},
        {type:'line', shape:{x1:x, y1:pQ1[1], x2:x, y2:pMin[1]}, style:ls},
        {type:'line', shape:{x1:x-cw, y1:pMax[1], x2:x+cw, y2:pMax[1]}, style:ls},
        {type:'line', shape:{x1:x-cw, y1:pMin[1], x2:x+cw, y2:pMin[1]}, style:ls},
        {type:'rect', shape:{x:x-hw, y:pQ3[1], width:2*hw, height:pQ1[1]-pQ3[1]}, style:{fill:'#f1f1f1', stroke:'#6e6e6e', lineWidth:1}},
        {type:'line', shape:{x1:x-hw, y1:pMed[1], x2:x+hw, y2:pMed[1]}, style:{stroke:'#111', lineWidth:2}}
      ]};
    }});
  bDots[i].forEach((vals, g) => {
    series.push({type:'scatter', name:groups[g], xAxisIndex:gi, yAxisIndex:gi, silent:true, z:3,
      data: dotData(vals, g), symbol:'circle', symbolSize:5.5,
      itemStyle:{color:B_COLORS[g], borderColor:'#3a3a3a', borderWidth:0.6, opacity:1}});
  });
  series.push({type:'scatter', xAxisIndex:gi, yAxisIndex:gi, silent:true, z:4,
    data: bMeans[i].map((m,g) => [g, m]), symbol:'rect', symbolSize:8,
    itemStyle:{color:'#e8181d', borderColor:'#555', borderWidth:0.6}});
  strip(col[0], row.strip, col[1], row.top-row.strip, tissues[i]);
  border(col[0], row.top, col[1], row.h);
}

// titles & labels
graphics.push({type:'text', x:7, y:8, style:{text:'A', font:'bold 13px '+FONT, fill:'#111', align:'center', verticalAlign:'middle', textAlign:'center', textVerticalAlign:'middle'}});
graphics.push({type:'text', x:7, y:407, style:{text:'B', font:'bold 13px '+FONT, fill:'#111', align:'center', verticalAlign:'middle', textAlign:'center', textVerticalAlign:'middle'}});
graphics.push({type:'text', x:13, y:187, rotation:Math.PI/2, style:{text:'Weighted Unifrac distance', font:'bold 14px '+FONT, fill:'#111', align:'center', verticalAlign:'middle', textAlign:'center', textVerticalAlign:'middle'}});
graphics.push({type:'text', x:13, y:617, rotation:Math.PI/2, style:{text:'Weighted Unifrac distance', font:'bold 14px '+FONT, fill:'#111', align:'center', verticalAlign:'middle', textAlign:'center', textVerticalAlign:'middle'}});
graphics.push({type:'text', x:376, y:373, style:{text:'Host genetic relationship', font:'bold 14px '+FONT, fill:'#111', align:'center', verticalAlign:'middle', textAlign:'center', textVerticalAlign:'middle'}});

const chart = echarts.init(document.getElementById('c'), null, {renderer:'canvas'});
chart.setOption({
  animation:false,
  backgroundColor:'#fff',
  grid:grids, xAxis:xAxes, yAxis:yAxes, series:series,
  legend:{data:groups, top:401, left:183, icon:'circle', itemWidth:7, itemHeight:7, itemGap:9,
    borderColor:'#222', borderWidth:1, padding:[6,7], selectedMode:false,
    textStyle:{fontFamily:FONT, fontWeight:'bold', fontSize:13, color:'#111'}},
  graphic:{elements:graphics}
});
</script></body></html>
